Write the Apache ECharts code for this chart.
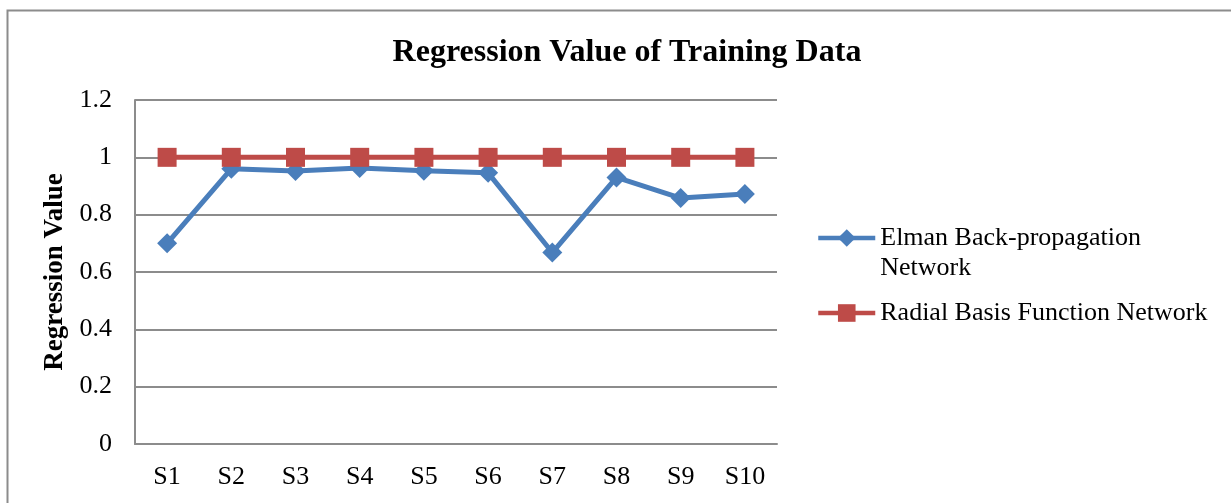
<!DOCTYPE html>
<html>
<head>
<meta charset="utf-8">
<script src="https://cdn.jsdelivr.net/npm/echarts@6/dist/echarts.min.js"></script>
<style>html,body{margin:0;padding:0;background:#fff;}#c{width:1231px;height:503px;}</style>
</head>
<body>
<div id="c"></div>
<script>
var categories = ['S1','S2','S3','S4','S5','S6','S7','S8','S9','S10'];
var elmanValues = [0.70, 0.96, 0.952, 0.963, 0.953, 0.946, 0.668, 0.93, 0.858, 0.872];
var rbfValues = [1, 1, 1, 1, 1, 1, 1, 1, 1, 1];
var yTicks = [0, 0.2, 0.4, 0.6, 0.8, 1, 1.2];
var seriesNames = ['Elman Back-propagation Network', 'Radial Basis Function Network'];
var legendLabels = [' \nElman Back-propagation\nNetwork', 'Radial Basis Function Network'];

var font = 'Liberation Serif, Times New Roman, serif';
var chart = echarts.init(document.getElementById('c'), null, {renderer: 'canvas'});
chart.setOption({
  animation: false,
  backgroundColor: '#fff',
  graphic: [{
    type: 'polyline', silent: true,
    shape: {points: [[7.5, 510], [7.5, 10.5], [1240, 10.5]]},
    style: {stroke: '#8c8c8c', lineWidth: 2, fill: null}
  }],
  title: {
    text: 'Regression Value of Training Data',
    left: 622, top: 32, textAlign: 'center',
    textStyle: {fontFamily: font, fontSize: 32, fontWeight: 'bold', color: '#000'}
  },
  legend: {
    orient: 'vertical', left: 811, top: 188,
    itemWidth: 57, itemHeight: 22, itemGap: 15,
    lineStyle: {width: 4.5},
    textStyle: {fontFamily: font, fontSize: 26, color: '#000', lineHeight: 30},
    formatter: function (name) { return legendLabels[seriesNames.indexOf(name)]; },
    data: seriesNames
  },
  grid: {left: 135, top: 100, width: 642, height: 344},
  xAxis: {
    type: 'category', data: categories, boundaryGap: true,
    axisLine: {lineStyle: {color: '#8c8c8c', width: 2}},
    axisTick: {show: false},
    axisLabel: {fontFamily: font, fontSize: 26, color: '#000', margin: 20}
  },
  yAxis: {
    type: 'value', min: 0, max: 1.2, interval: 0.2,
    name: 'Regression Value', nameLocation: 'middle', nameGap: 56, nameRotate: 90,
    nameTextStyle: {fontFamily: font, fontSize: 27, fontWeight: 'bold', color: '#000'},
    axisLine: {show: true, lineStyle: {color: '#8c8c8c', width: 2}},
    axisTick: {show: false},
    splitLine: {lineStyle: {color: '#8c8c8c', width: 2}},
    axisLabel: {fontFamily: font, fontSize: 26, color: '#000', margin: 23,
      formatter: function (v) { return String(Math.round(v * 10) / 10); }}
  },
  series: [{
    name: seriesNames[0], type: 'line', data: elmanValues,
    symbol: 'diamond', symbolSize: 20,
    lineStyle: {color: '#4a7ebb', width: 5},
    itemStyle: {color: '#4a7ebb'}
  }, {
    name: seriesNames[1], type: 'line', data: rbfValues,
    symbol: 'rect', symbolSize: 19,
    lineStyle: {color: '#be4b48', width: 5},
    itemStyle: {color: '#be4b48'}
  }]
});
</script>
</body>
</html>
